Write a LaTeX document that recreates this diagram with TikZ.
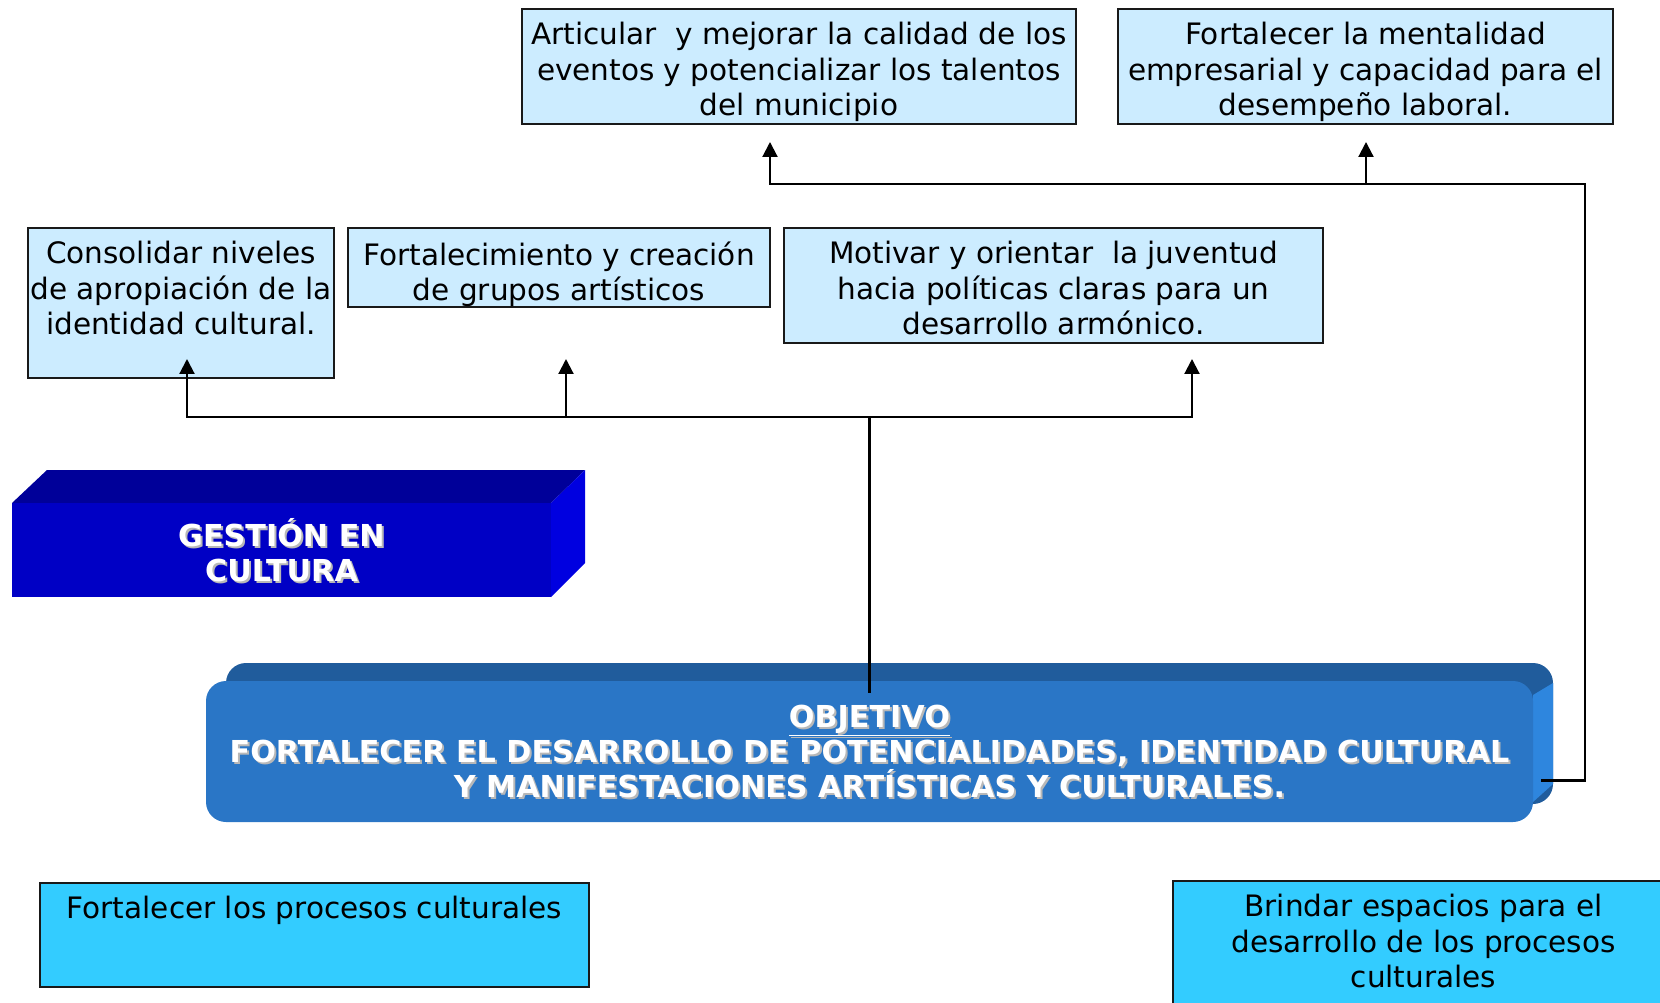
\documentclass[tikz,border=0pt]{standalone}
\usepackage{fontspec}
\setmainfont{DejaVu Sans}
\usetikzlibrary{positioning,fit,arrows.meta}

\definecolor{celeste}{RGB}{204,236,255}
\definecolor{cielo}{RGB}{51,204,255}
\definecolor{azulfrente}{RGB}{0,0,197}
\definecolor{azultapa}{RGB}{0,0,153}
\definecolor{azullado}{RGB}{0,0,224}
\definecolor{objfrente}{RGB}{42,118,198}
\definecolor{objtapa}{RGB}{32,92,156}
\definecolor{objlado}{RGB}{46,134,222}

\tikzset{
  caja/.style   = {draw=black!90, line width=1pt, inner sep=0pt},
  texto/.style  = {align=center, inner sep=0pt, font=\fontsize{16.8}{20.2}\selectfont},
  titulo/.style = {texto, text=white, font=\fontsize{17.2}{20.2}\selectfont\bfseries},
  sombra/.style = {titulo, text=black!28},
  flecha/.style = {line width=1.2pt, -{Triangle[width=0.3cm, length=0.3cm]}},
}

\begin{document}
\begin{tikzpicture}[x=0.02cm, y=-0.02cm]

       \useasboundingbox (0,0) rectangle (1660,1003);

        % cajas de arriba
        \node [caja, fill=celeste, fit={(522,9) (1076,124)}]   (articular)  {};
        \node [caja, fill=celeste, fit={(1118,9) (1613,124)}]  (mentalidad) {};
        \node [caja, fill=celeste, fit={(28,228) (334,378)}]   (consolidar) {};
        \node [caja, fill=celeste, fit={(348,228) (770,307)}]  (grupos)     {};
        \node [caja, fill=celeste, fit={(784,228) (1323,343)}] (juventud)   {};

        \node [texto, below=0.28cm of articular.north]  (articular-txt)  {Articular~ y mejorar la calidad de los\\eventos y potencializar los talentos\\del municipio};
        \node [texto, below=0.28cm of mentalidad.north] (mentalidad-txt) {Fortalecer la mentalidad\\empresarial y capacidad para el\\desempeño laboral.};
        \node [texto, below=0.28cm of consolidar.north] (consolidar-txt) {Consolidar niveles\\de apropiación de la\\identidad cultural.};
        \node [texto, below=0.28cm of grupos.north]     (grupos-txt)     {Fortalecimiento y creación\\de grupos artísticos};
        \node [texto, below=0.28cm of juventud.north]   (juventud-txt)   {Motivar y orientar~ la juventud\\hacia políticas claras para un\\desarrollo armónico.};

        % bloque gestion
        \fill [azultapa] (12,503) -- (47,470) -- (585,470) -- (551,503) -- cycle;
        \fill [azullado] (551,503) -- (585,470) -- (585,563) -- (551,597) -- cycle;
        \node [fill=azulfrente, inner sep=0pt, fit={(12,503) (551,597)}] (gestion) {};
        \node [sombra] (gestion-sombra) at ([shift={(2,2)}]gestion) {GESTIÓN EN\\CULTURA};
        \node [titulo] (gestion-txt)    at (gestion)                {GESTIÓN EN\\CULTURA};

        % bloque objetivo
        \fill [objtapa, rounded corners=0.4cm] (226,663) rectangle (1553,804);
        \fill [objlado] (1533,695) -- (1553,683) -- (1553,784) -- (1533,802) -- cycle;
        \node [fill=objfrente, inner sep=0pt, rounded corners=0.4cm, fit={(206,681) (1533,822)}] (objetivo) {};
        \node [sombra] (objetivo-sombra) at ([shift={(2,2)}]objetivo) {\underline{OBJETIVO}\\FORTALECER EL DESARROLLO DE POTENCIALIDADES, IDENTIDAD CULTURAL\\Y MANIFESTACIONES ARTÍSTICAS Y CULTURALES.};
        \node [titulo] (objetivo-txt)    at (objetivo)                {\underline{OBJETIVO}\\FORTALECER EL DESARROLLO DE POTENCIALIDADES, IDENTIDAD CULTURAL\\Y MANIFESTACIONES ARTÍSTICAS Y CULTURALES.};

        % cajas de abajo
        \node [caja, fill=cielo, fit={(40,883) (589,987)}]    (procesos) {};
        \node [caja, fill=cielo, fit={(1173,881) (1674,1040)}] (espacios) {};
        \node [texto, below=0.28cm of procesos.north] (procesos-txt) {Fortalecer los procesos culturales};
        \node [texto, below=0.28cm of espacios.north] (espacios-txt) {Brindar espacios para el\\desarrollo de los procesos\\culturales};

        % conectores
        \coordinate (bus)     at (objetivo.north |- 0,417);
        \coordinate (puntaC)  at (187,359);
        \coordinate (puntaD)  at (566,359);
        \coordinate (puntaE)  at (1192,359);
        \draw [flecha] ([yshift=-0.24cm]objetivo.north) -- (bus) -| (puntaC);
        \draw [flecha] (bus) -| (puntaD);
        \draw [flecha] (bus) -| (puntaE);

        \coordinate (salida)  at ([shift={(8,29)}]objetivo.east);
        \coordinate (esquina) at (1585,184);
        \coordinate (puntaA)  at (770,142);
        \coordinate (puntaB)  at (1366,142);
        \draw [flecha] (salida) -| (esquina) -| (puntaA);
        \draw [flecha] (puntaB |- esquina) -- (puntaB);

     \end{tikzpicture}
\end{document}
